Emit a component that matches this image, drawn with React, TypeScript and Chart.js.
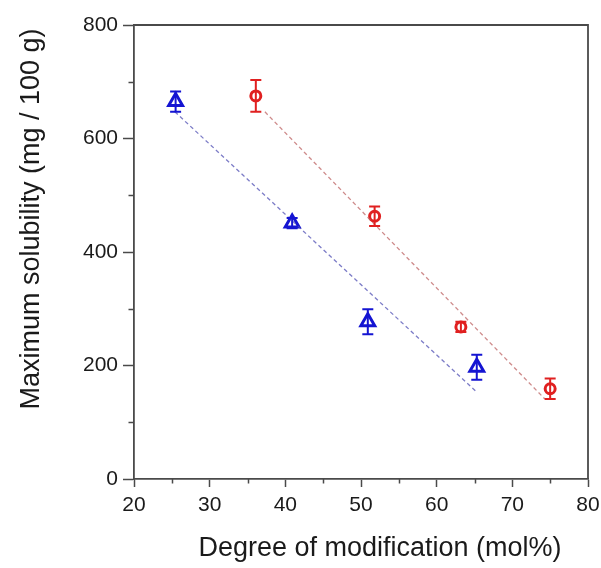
import React, { useEffect, useRef } from "react";
import { Chart, registerables } from "chart.js";

Chart.register(...registerables);

const blueX = [25.5, 40.9, 50.9, 65.3];
const blueY = [665, 451, 277, 197];
const blueErr = [18, 9, 22, 22];

const redX = [36.1, 51.8, 63.2, 75.0];
const redY = [675, 463, 268, 159];
const redErr = [28, 17, 9, 18];

const blueFitX = [25.4, 65.3];
const blueFitY = [647, 153];
const redFitX = [37.3, 74.3];
const redFitY = [647, 141];

const xMinorTicks = [25, 35, 45, 55, 65, 75];
const yMinorTicks = [100, 300, 500, 700];

const xTitle = "Degree of modification (mol%)";
const yTitle = "Maximum solubility (mg / 100 g)";

const FONT = "'Liberation Sans', Arial, sans-serif";
const AXIS_COLOR = "#4a4a4a";
const BLUE = "#1414d2";
const RED = "#e02020";

const zip = (xs: number[], ys: number[]) => xs.map((x, i) => ({ x, y: ys[i] }));

const extrasPlugin = {
  id: "extras",
  afterDatasetsDraw(chart: any) {
    const { ctx, scales } = chart;
    const xs = scales.x;
    const ys = scales.y;
    ctx.save();
    const drawErr = (xArr: number[], yArr: number[], eArr: number[], color: string) => {
      ctx.strokeStyle = color;
      ctx.lineWidth = 2;
      xArr.forEach((xv, i) => {
        const px = xs.getPixelForValue(xv);
        const top = ys.getPixelForValue(yArr[i] + eArr[i]);
        const bot = ys.getPixelForValue(yArr[i] - eArr[i]);
        ctx.beginPath();
        ctx.moveTo(px, top);
        ctx.lineTo(px, bot);
        ctx.moveTo(px - 5.5, top);
        ctx.lineTo(px + 5.5, top);
        ctx.moveTo(px - 5.5, bot);
        ctx.lineTo(px + 5.5, bot);
        ctx.stroke();
      });
    };
    drawErr(blueX, blueY, blueErr, BLUE);
    drawErr(redX, redY, redErr, RED);
    ctx.restore();
  },
  afterDraw(chart: any) {
    const { ctx, chartArea, scales } = chart;
    const xs = scales.x;
    const ys = scales.y;
    ctx.save();
    ctx.strokeStyle = AXIS_COLOR;
    ctx.lineWidth = 1.8;
    ctx.beginPath();
    ctx.moveTo(chartArea.left, chartArea.top);
    ctx.lineTo(chartArea.right, chartArea.top);
    ctx.lineTo(chartArea.right, chartArea.bottom);
    ctx.stroke();
    ctx.lineWidth = 1.5;
    ctx.beginPath();
    xMinorTicks.forEach((v) => {
      const px = Math.round(xs.getPixelForValue(v)) + 0.5;
      ctx.moveTo(px, chartArea.bottom);
      ctx.lineTo(px, chartArea.bottom + 4.5);
    });
    yMinorTicks.forEach((v) => {
      const py = Math.round(ys.getPixelForValue(v)) + 0.5;
      ctx.moveTo(chartArea.left, py);
      ctx.lineTo(chartArea.left - 5.5, py);
    });
    ctx.stroke();
    ctx.fillStyle = "#1a1a1a";
    ctx.font = `27px ${FONT}`;
    ctx.textAlign = "center";
    ctx.textBaseline = "middle";
    ctx.fillText(xTitle, 380, 549);
    ctx.translate(32, 219);
    ctx.rotate(-Math.PI / 2);
    ctx.fillText(yTitle, 0, 0);
    ctx.restore();
  },
};

export default function App() {
  const ref = useRef<HTMLCanvasElement | null>(null);
  useEffect(() => {
    if (!ref.current) return;
    const chart = new Chart(ref.current, {
      type: "scatter",
      data: {
        datasets: [
          {
            label: "blue fit",
            type: "line",
            data: zip(blueFitX, blueFitY),
            borderColor: "rgba(80,80,180,0.75)",
            borderWidth: 1.3,
            borderDash: [4, 3],
            pointRadius: 0,
            showLine: true,
            fill: false,
          } as any,
          {
            label: "red fit",
            type: "line",
            data: zip(redFitX, redFitY),
            borderColor: "rgba(190,100,100,0.75)",
            borderWidth: 1.3,
            borderDash: [4, 3],
            pointRadius: 0,
            showLine: true,
            fill: false,
          } as any,
          {
            label: "blue",
            data: zip(blueX, blueY),
            pointStyle: "triangle",
            pointRadius: 8,
            borderWidth: 3,
            borderColor: BLUE,
            backgroundColor: "rgba(255,255,255,0)",
          },
          {
            label: "red",
            data: zip(redX, redY),
            pointStyle: "circle",
            pointRadius: 5,
            borderWidth: 3,
            borderColor: RED,
            backgroundColor: "rgba(255,255,255,0)",
          },
        ],
      },
      options: {
        animation: false,
        responsive: false,
        devicePixelRatio: 1,
        layout: { padding: { top: 25, right: 13, left: 0, bottom: 0 } },
        plugins: {
          legend: { display: false },
          tooltip: { enabled: false },
          title: { display: false },
        },
        scales: {
          x: {
            type: "linear",
            min: 20,
            max: 80,
            ticks: {
              stepSize: 10,
              color: "#1a1a1a",
              font: { family: FONT, size: 21 },
              padding: 6,
              maxRotation: 0,
            },
            grid: {
              drawOnChartArea: false,
              drawTicks: true,
              tickLength: 8,
              tickColor: AXIS_COLOR,
              tickWidth: 1.5,
            },
            border: { display: true, color: AXIS_COLOR, width: 1.8 },
            title: { display: false },
            afterFit(scale: any) {
              scale.height = 89;
              scale.paddingLeft = 0;
              scale.paddingRight = 0;
            },
          },
          y: {
            type: "linear",
            min: 0,
            max: 800,
            ticks: {
              stepSize: 200,
              color: "#1a1a1a",
              font: { family: FONT, size: 21 },
              padding: 5,
            },
            grid: {
              drawOnChartArea: false,
              drawTicks: true,
              tickLength: 11,
              tickColor: AXIS_COLOR,
              tickWidth: 1.5,
            },
            border: { display: true, color: AXIS_COLOR, width: 1.8 },
            title: { display: false },
            afterFit(scale: any) {
              scale.width = 134;
              scale.paddingTop = 0;
              scale.paddingBottom = 0;
            },
          },
        },
      },
      plugins: [extrasPlugin],
    });
    return () => chart.destroy();
  }, []);
  return (
    <div style={{ position: "absolute", left: 0, top: 0, width: 601, height: 568, background: "#fff" }}>
      <canvas ref={ref} width={601} height={568} style={{ display: "block" }} />
    </div>
  );
}
